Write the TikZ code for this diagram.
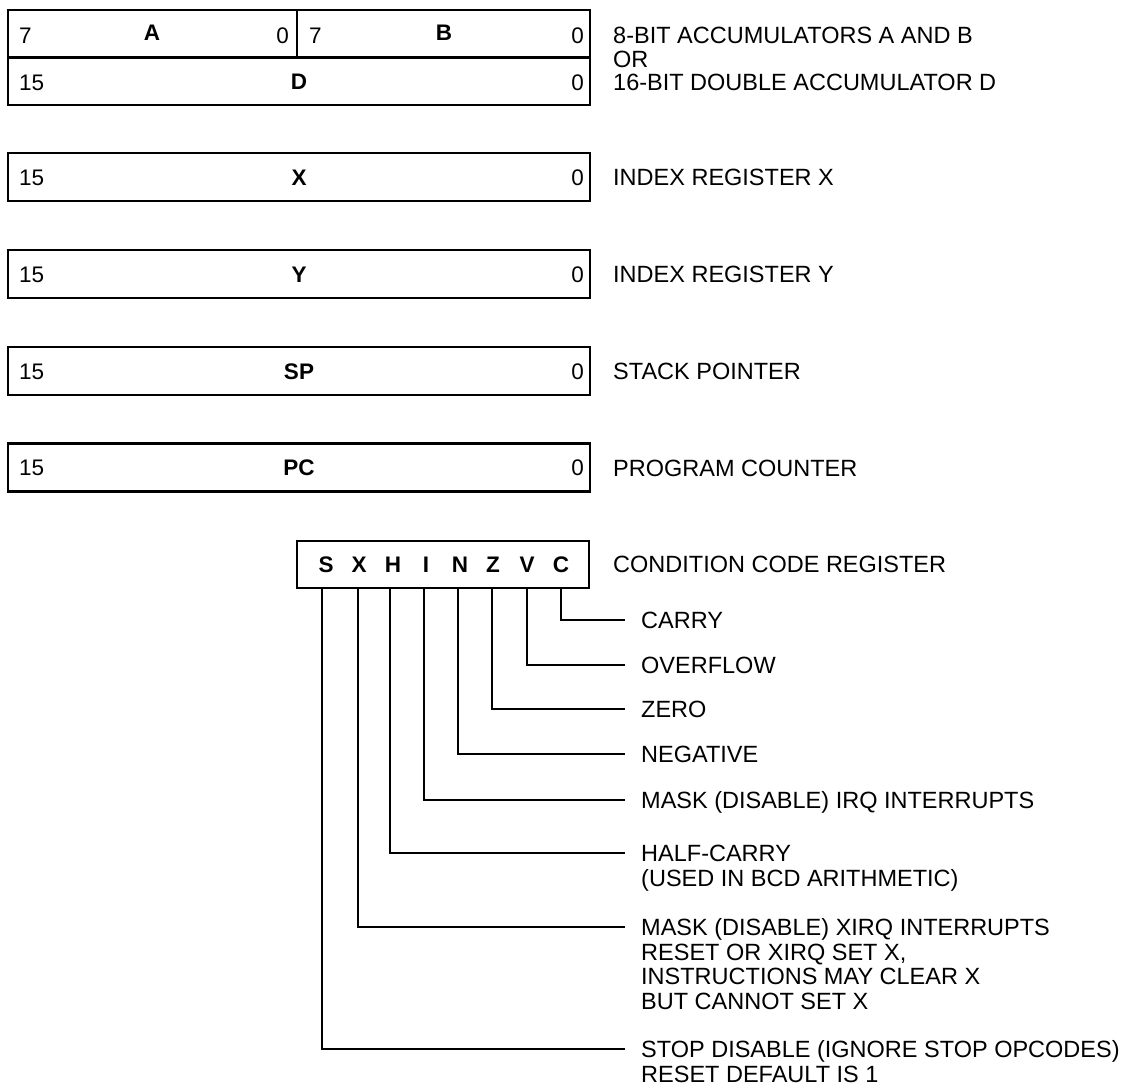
\documentclass[tikz,border=0pt]{standalone}
\usepackage{fontspec}
\setmainfont{Liberation Sans}
\newcommand{\boxfont}{\fontsize{22.5}{24.5}\selectfont}
\newcommand{\lblfont}{\fontsize{23.5}{24.5}\selectfont}
\begin{document}
\begin{tikzpicture}[x=1pt,y=-1pt,
  regbox/.style={draw, line width=2.5pt, inner sep=0pt, minimum width=582pt, minimum height=48pt},
  conn/.style={line width=1.2pt},
  txt/.style={inner sep=0pt, font=\boxfont},
  boldtxt/.style={inner sep=0pt, font=\boxfont\bfseries},
  lbl/.style={inner sep=0pt, font=\lblfont, anchor=base west}]
\useasboundingbox (0,0) rectangle (1134,1085);

% ---------- A/B / D ----------
\node[regbox, minimum height=95pt] (regAB) at (299,57.5) {};
\draw[line width=2.5pt] (regAB.west) -- (regAB.east);
\coordinate (divx) at (297,0);
\draw[line width=1.6pt] (regAB.north -| divx) -- (regAB.center -| divx);
\node[txt, anchor=base west] (a7) at (19,43) {7};
\node[boldtxt, anchor=base] (aA) at (152,40) {A};
\node[txt, anchor=base east] (a0) at (289,43) {0};
\node[txt, anchor=base west] (b7) at (309,43) {7};
\node[boldtxt, anchor=base] (bB) at (444,40) {B};
\node[txt, anchor=base east] (b0) at (584,43) {0};
\node[txt, anchor=base west] (d15) at (19,90) {15};
\node[boldtxt, anchor=base] (dD) at (299,89) {D};
\node[txt, anchor=base east] (d0) at (584,90) {0};
\node[lbl, font=\fontsize{23.5}{23.5}\selectfont] (labAB) at (613,43.5)
  {\vtop{\hbox{8-BIT ACCUMULATORS A AND B}\hbox{OR}\hbox{16-BIT DOUBLE ACCUMULATOR D}}};

% ---------- 16-bit registers ----------
\foreach \nm/\cy/\lab in {X/177/INDEX REGISTER X, Y/274/INDEX REGISTER Y, SP/371/STACK POINTER, PC/467.5/PROGRAM COUNTER}{
  \node[regbox] (reg\nm) at (299,\cy) {};
  \node[txt, anchor=base west] (hi\nm) at (19,\cy+8) {15};
  \node[boldtxt, anchor=base] (nm\nm) at (299,\cy+8) {\nm};
  \node[txt, anchor=base east] (lo\nm) at (584,\cy+8) {0};
  \node[lbl] (lab\nm) at (613,\cy+8.5) {\lab};
}

% ---------- CCR ----------
\node[draw, line width=2.5pt, inner sep=0pt, minimum width=292pt, minimum height=47pt] (ccr) at (443,564.5) {};
\node[lbl] (labCCR) at (613,572.5) {CONDITION CODE REGISTER};
\foreach \b/\bx in {S/326, X/359, H/393, I/426, N/460, Z/493, V/527, C/561}{
  \node[boldtxt, anchor=base] (bit\b) at (\bx,572) {\b};
}

% connectors: name / line x / line y
\foreach \b/\lx/\ly in {C/561/620, V/527/665, Z/492/709, N/458/754, I/424/800, H/390/853, X/358/927, S/322/1049}{
  \coordinate (t\b) at (\lx,588);
  \coordinate (e\b) at (625,\ly);
  \draw[conn] (t\b) |- (e\b);
}

\node[lbl] (labC) at (641,628.5) {CARRY};
\node[lbl] (labV) at (641,673.5) {OVERFLOW};
\node[lbl] (labZ) at (641,717.5) {ZERO};
\node[lbl] (labN) at (641,762.5) {NEGATIVE};
\node[lbl] (labI) at (641,808.5) {MASK (DISABLE) IRQ INTERRUPTS};
\node[lbl] (labH) at (641,861.5)
  {\vtop{\hbox{HALF-CARRY}\hbox{(USED IN BCD ARITHMETIC)}}};
\node[lbl] (labX) at (641,935.5)
  {\vtop{\hbox{MASK (DISABLE) XIRQ INTERRUPTS}\hbox{RESET OR XIRQ SET X,}\hbox{INSTRUCTIONS MAY CLEAR X}\hbox{BUT CANNOT SET X}}};
\node[lbl] (labS) at (641,1057.5)
  {\vtop{\hbox{STOP DISABLE (IGNORE STOP OPCODES)}\hbox{RESET DEFAULT IS 1}}};
\end{tikzpicture}
\end{document}
